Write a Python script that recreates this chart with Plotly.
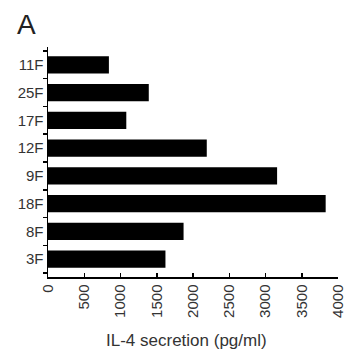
import plotly.graph_objects as go

categories = ["11F", "25F", "17F", "12F", "9F", "18F", "8F", "3F"]
il4_values = [840, 1390, 1080, 2190, 3160, 3830, 1870, 1620]
x_tick_vals = [0, 500, 1000, 1500, 2000, 2500, 3000, 3500, 4000]
x_tick_text = [str(v) for v in x_tick_vals]

fig = go.Figure()
fig.add_trace(go.Bar(
    y=categories, x=il4_values, orientation="h",
    marker=dict(color="black", line=dict(width=0)),
    width=0.62,
))

font_family = "Liberation Sans, Arial, sans-serif"
fig.update_layout(
    width=347, height=354,
    margin=dict(l=48, r=9, t=47, b=77, autoexpand=False),
    plot_bgcolor="white", paper_bgcolor="white",
    showlegend=False,
    font=dict(family=font_family, color="#333333"),
    xaxis=dict(
        range=[0, 4000], tickvals=x_tick_vals, ticktext=x_tick_text,
        tickangle=-90, ticks="inside", ticklen=4, tickwidth=1.5, tickcolor="black",
        showline=True, linecolor="black", linewidth=1.5,
        showgrid=False, zeroline=False, automargin=False,
        tickfont=dict(size=15, color="#333333"),
    ),
    yaxis=dict(
        categoryorder="array", categoryarray=categories[::-1],
        range=[-0.64, 7.64],
        ticks="outside", tickson="boundaries", ticklen=4, tickwidth=1.5, tickcolor="black",
        showline=True, linecolor="black", linewidth=1.5,
        showgrid=False, zeroline=False, automargin=False,
        tickfont=dict(size=15, color="#333333"),
    ),
    annotations=[
        dict(
            text="A", xref="paper", yref="paper", x=-0.114, y=1.096,
            xanchor="left", yanchor="middle", showarrow=False,
            font=dict(size=28, color="#222222", family=font_family),
        ),
        dict(
            text="IL-4 secretion (pg/ml)", xref="paper", yref="paper", x=0.479, y=-0.278,
            xanchor="center", yanchor="middle", showarrow=False,
            font=dict(size=17, color="#333333", family=font_family),
        ),
    ],
)

fig.write_html(
    "out.html",
    config={"displayModeBar": False, "staticPlot": True},
    post_script="document.body.style.margin='0';document.body.style.padding='0';document.body.style.overflow='hidden';",
)
